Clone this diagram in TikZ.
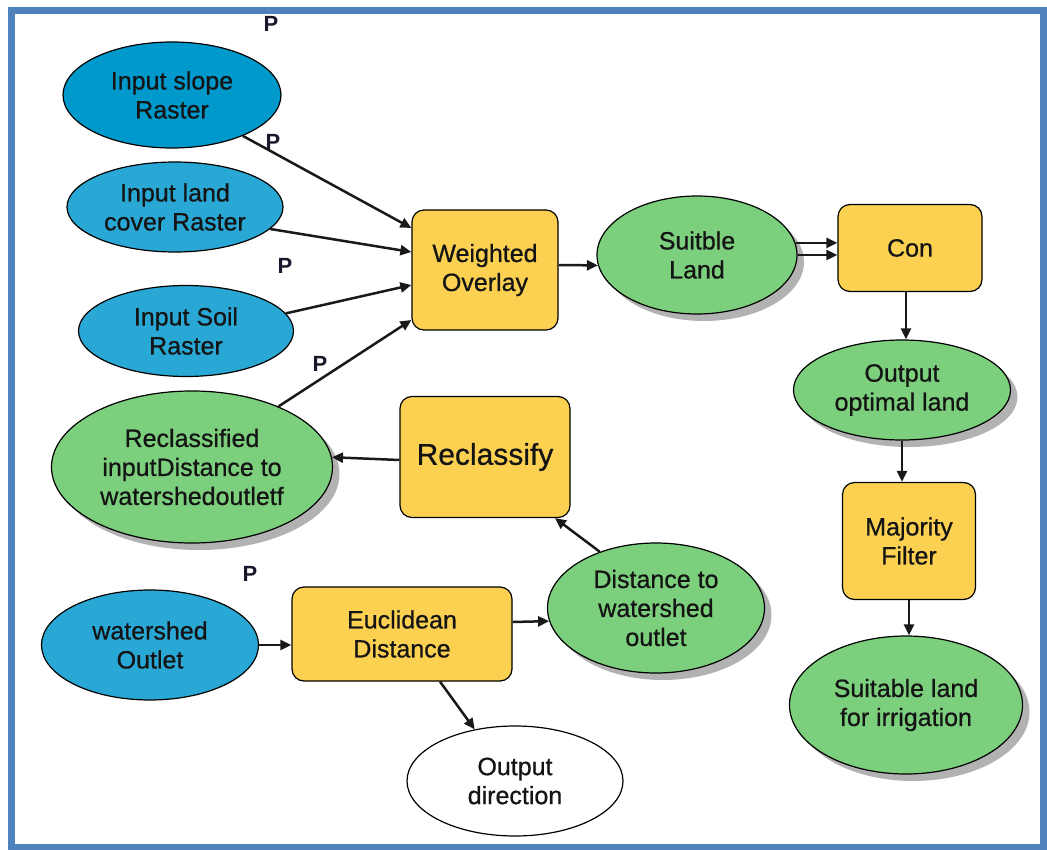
\documentclass[tikz,border=0pt]{standalone}
\usepackage{fontspec}
\setmainfont{Liberation Sans}
\newfontfamily\lblfont[FakeBold=0.7]{Liberation Sans}
\usetikzlibrary{shapes.geometric,arrows.meta,shadows}
\definecolor{blueA}{RGB}{0,153,204}
\definecolor{blueB}{RGB}{41,168,214}
\definecolor{greenC}{RGB}{124,207,124}
\definecolor{yellowD}{RGB}{252,209,82}
\definecolor{frameE}{RGB}{79,129,189}
\definecolor{pcol}{RGB}{25,25,45}
\begin{document}
\begin{tikzpicture}[x=1pt,y=-1pt,
  lbl/.style={font=\lblfont\fontsize{25}{29}\selectfont, align=center, text=black!92},
  ell/.style={ellipse, draw=black, line width=1.2pt, inner sep=0pt, lbl},
  proc/.style={rectangle, rounded corners=12pt, draw=black, fill=yellowD, line width=1.2pt, inner sep=0pt, lbl},
  gshadow/.style={drop shadow={shadow xshift=7pt, shadow yshift=-7pt, fill=black, opacity=0.3}},
  arr/.style={draw=black!90, line width=2.5pt, -{Triangle[length=11pt,width=10pt]}},
  plab/.style={font=\fontsize{22}{22}\selectfont\bfseries, text=pcol, inner sep=0pt}]
\fill[white] (0,0) rectangle (1047,850);
\useasboundingbox (0,0) rectangle (1047,850);
\draw[frameE, line width=7pt] (11,11) rectangle (1043,847);

% nodes
\node[ell, fill=blueA, minimum width=218pt, minimum height=106pt] (slope) at (172,95) {Input slope\\Raster};
\node[ell, fill=blueB, minimum width=216pt, minimum height=90pt] (land) at (175,207) {Input land\\cover Raster};
\node[ell, fill=blueB, minimum width=215pt, minimum height=91pt] (soil) at (186,331) {Input Soil\\Raster};
\node[ell, fill=greenC, gshadow, minimum width=281pt, minimum height=152pt] (rcd) at (192,467) {Reclassified\\inputDistance to\\watershedoutletf};
\node[proc, minimum width=146pt, minimum height=120pt] (wo) at (485,270) {Weighted\\Overlay};
\node[ell, fill=greenC, gshadow, minimum width=200pt, minimum height=118pt] (suit) at (697,255) {Suitble\\Land};
\node[proc, minimum width=144pt, minimum height=87pt] (con) at (910,248) {Con};
\node[ell, fill=greenC, gshadow, minimum width=217pt, minimum height=100pt] (opt) at (902,390) {Output\\optimal land};
\node[proc, minimum width=133pt, minimum height=117pt] (maj) at (909,541) {Majority\\Filter};
\node[ell, fill=greenC, gshadow, minimum width=233pt, minimum height=138pt] (irr) at (906,705) {Suitable land\\for irrigation};
\node[proc, minimum width=170pt, minimum height=121pt, font=\lblfont\fontsize{30}{34}\selectfont] (recl) at (485,457) {Reclassify};
\node[ell, fill=greenC, gshadow, minimum width=217pt, minimum height=130pt] (dist) at (656,608) {Distance to\\watershed\\outlet};
\node[proc, minimum width=220pt, minimum height=94pt] (euc) at (402,634) {Euclidean\\Distance};
\node[ell, fill=blueB, minimum width=217pt, minimum height=110pt] (ws) at (150,645) {watershed\\Outlet};
\node[ell, fill=white, minimum width=216pt, minimum height=110pt] (dir) at (515,781) {Output\\direction};

% P labels
\node[plab] (p1) at (271,24) {P};
\node[plab] (p2) at (273,142) {P};
\node[plab] (p3) at (285,266) {P};
\node[plab] (p4) at (320,364) {P};
\node[plab] (p5) at (250,574) {P};

% connectors
\draw[arr] (slope.-30) -- ([yshift=42pt]wo.west);
\draw[arr] (land.-13) -- ([yshift=18pt]wo.west);
\draw[arr] (soil.10) -- ([yshift=-15pt]wo.west);
\draw[arr] (rcd.35) -- ([yshift=-50pt]wo.west);
\draw[arr] ([yshift=5pt]wo.east) -- (suit.186);
\draw[arr] (suit.7.6) -- (suit.7.6 -| con.west);
\draw[arr] (suit.-0.6) -- (suit.-0.6 -| con.west);
\draw[arr] ([xshift=-4pt]con.south) -- ([xshift=-4pt]con.south |- opt.north);
\draw[arr] (opt.south) -- (opt.south |- maj.north);
\draw[arr] (maj.south) -- (maj.south |- irr.north);
\draw[arr] ([yshift=-3pt]recl.west) -- (rcd.4);
\draw[arr] (dist.135) -- ([xshift=70pt]recl.south);
\draw[arr] ([yshift=12pt]euc.east) -- (dist.187);
\draw[arr] (ws.east) -- (ws.east -| euc.west);
\draw[arr] ([xshift=38pt]euc.south) -- (dir.128);
\end{tikzpicture}
\end{document}
